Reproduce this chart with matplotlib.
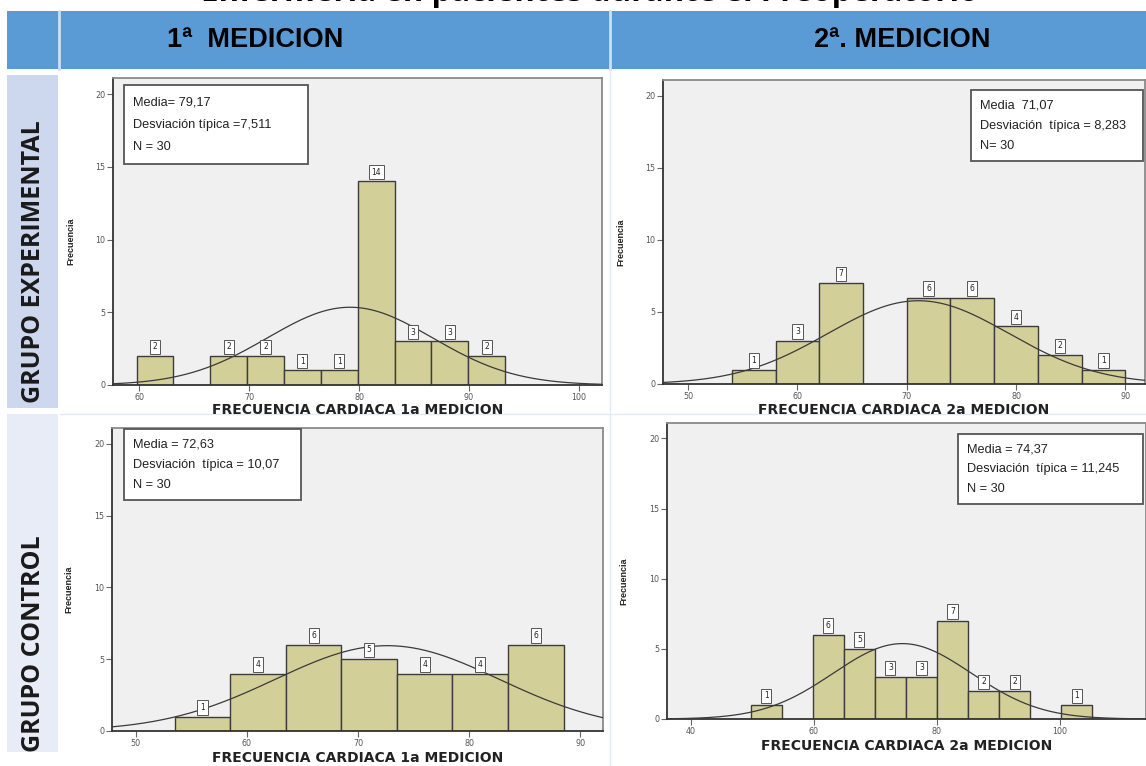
import numpy as np
import matplotlib
matplotlib.use("Agg")
from matplotlib import pyplot as plt
from matplotlib.patches import Rectangle
from matplotlib.lines import Line2D

W, H = 1146, 766

# histogram bins and counts
exp1_edges = [59.74, 63.09, 66.45, 69.8, 73.16, 76.51, 79.86, 83.22, 86.57, 89.93, 93.28]
exp1_counts = [2, 0, 2, 2, 1, 1, 14, 3, 3, 2]
exp1_stats = (79.17, 7.511, 30)
exp1_lines = ["Media= 79,17", "Desviación típica =7,511", "N = 30"]
exp1_xticks = [60, 70, 80, 90, 100]

exp2_edges = [54, 58, 62, 66, 70, 74, 78, 82, 86, 90]
exp2_counts = [1, 3, 7, 0, 6, 6, 4, 2, 1]
exp2_stats = (71.07, 8.283, 30)
exp2_lines = ["Media  71,07", "Desviación  típica = 8,283", "N= 30"]
exp2_xticks = [50, 60, 70, 80, 90]

ctl1_edges = [53.5, 58.5, 63.5, 68.5, 73.5, 78.5, 83.5, 88.5]
ctl1_counts = [1, 4, 6, 5, 4, 4, 6]
ctl1_stats = (72.63, 10.07, 30)
ctl1_lines = ["Media = 72,63", "Desviación  típica = 10,07", "N = 30"]
ctl1_xticks = [50, 60, 70, 80, 90]

ctl2_edges = [49.7, 54.75, 59.8, 64.85, 69.9, 74.95, 80.0, 85.05, 90.1, 95.15, 100.2, 105.25]
ctl2_counts = [1, 0, 6, 5, 3, 3, 7, 2, 2, 0, 1]
ctl2_stats = (74.37, 11.245, 30)
ctl2_lines = ["Media = 74,37", "Desviación  típica = 11,245", "N = 30"]
ctl2_xticks = [40, 60, 80, 100]

yticks = [0, 5, 10, 15, 20]
col_titles = ["1ª  MEDICION", "2ª. MEDICION"]
row_titles = ["GRUPO EXPERIMENTAL", "GRUPO CONTROL"]
page_title = "Enfermería en pacientes durante el Preoperatorio"

BAR = "#d3cf98"
EDGE = "#3c3c3c"
SANS = ["Liberation Sans", "DejaVu Sans"]


def fx(x):
    return x / W


def fy(y):
    return 1 - y / H


def fig_rect(x0, y0, x1, y1):
    return [x0 / W, 1 - y1 / H, (x1 - x0) / W, (y1 - y0) / H]


fig = plt.figure(figsize=(W / 100, H / 100), dpi=100)
fig.patch.set_facecolor("white")

# table header and row cells
fig.patches.append(Rectangle((fx(7), fy(69)), fx(1146 - 7), 58 / H,
                             transform=fig.transFigure, fc="#5b9bd5", ec="none"))
for xline in (59, 610):
    fig.add_artist(Line2D([fx(xline)] * 2, [fy(11), fy(69)], color="#cfe0f3", lw=2))
fig.add_artist(Line2D([fx(610)] * 2, [fy(69), fy(766)], color="#e3eaf4", lw=1))
fig.add_artist(Line2D([fx(60), fx(1146)], [fy(414)] * 2, color="#e3eaf4", lw=1))
fig.patches.append(Rectangle((fx(7), fy(408)), fx(51), 333 / H,
                             transform=fig.transFigure, fc="#cdd8ee", ec="none"))
fig.patches.append(Rectangle((fx(7), fy(752)), fx(51), 338 / H,
                             transform=fig.transFigure, fc="#e7ecf6", ec="none"))

# the page title is cut by the top edge in the reference too
fig.text(fx(590), fy(1), page_title, ha="center", va="baseline",
         fontsize=22.5, fontweight="bold", family=["Open Sans", "DejaVu Sans"])
fig.text(fx(255), fy(40), col_titles[0], ha="center", va="center",
         fontsize=19.5, fontweight="bold", family=SANS)
fig.text(fx(902), fy(40), col_titles[1], ha="center", va="center",
         fontsize=19.5, fontweight="bold", family=SANS)
fig.text(fx(34), fy(262), row_titles[0], ha="center", va="center", rotation=90,
         fontsize=18, fontweight="bold", color="#1a1a1a", family=["Open Sans", "DejaVu Sans"])
fig.text(fx(34), fy(644), row_titles[1], ha="center", va="center", rotation=90,
         fontsize=18, fontweight="bold", color="#1a1a1a", family=["Open Sans", "DejaVu Sans"])


def histogram(box, edges, counts, stats, xlim, xticks, sbox, lines, xlabel, xlab_y, ylab_x):
    ax = fig.add_axes(fig_rect(*box))
    ax.set_facecolor("#f0f0f0")
    edges = np.asarray(edges, dtype=float)
    counts = np.asarray(counts)
    widths = np.diff(edges)
    for left, w, c in zip(edges[:-1], widths, counts):
        if c == 0:
            continue
        ax.bar(left, c, width=w, align="edge", color=BAR, edgecolor=EDGE, lw=1, zorder=2)
        ax.annotate(str(c), (left + w / 2, c), xytext=(0, 3.4), textcoords="offset points",
                    ha="center", va="bottom", fontsize=5.5, color="#222", zorder=4,
                    bbox=dict(boxstyle="square,pad=0.35", fc="white", ec="#555", lw=0.7))

    # fitted normal curve scaled to counts
    mean, sd, n = stats
    xs = np.linspace(xlim[0], xlim[1], 400)
    ys = n * widths.mean() * np.exp(-0.5 * ((xs - mean) / sd) ** 2) / (sd * np.sqrt(2 * np.pi))
    ax.plot(xs, ys, color="#3a3a3a", lw=0.9, zorder=3)

    ax.set_xlim(*xlim)
    ax.set_ylim(0, 21.1)
    ax.set_xticks(xticks)
    ax.set_yticks(yticks)
    ax.tick_params(direction="out", length=4, width=0.8, color="#666",
                   labelsize=5.8, labelcolor="#555", pad=1.5)
    for side in ("left", "bottom"):
        ax.spines[side].set_color("#333")
        ax.spines[side].set_linewidth(1.3)
    for side in ("top", "right"):
        ax.spines[side].set_color("#8a8a8a")
        ax.spines[side].set_linewidth(1.3)

    # statistics box
    x0, y0, x1, y1 = sbox
    fig.patches.append(Rectangle((fx(x0), fy(y1)), (x1 - x0) / W, (y1 - y0) / H,
                                 transform=fig.transFigure, fc="white", ec="#555",
                                 lw=1.3, zorder=5))
    step = (y1 - y0) / 3.55
    for i, line in enumerate(lines):
        fig.text(fx(x0 + 9), fy(y0 + step * (0.8 + i)), line, ha="left", va="center",
                 fontsize=9.2, color="#222", family=SANS, zorder=6)

    xc = (box[0] + box[2]) / 2
    fig.text(fx(xc), fy(xlab_y), xlabel, ha="center", va="center",
             fontsize=10, fontweight="bold", color="#222")
    yc = (box[1] + box[3]) / 2 + 10
    fig.text(fx(ylab_x), fy(yc), "Frecuencia", ha="center", va="center", rotation=90,
             fontsize=6.5, fontweight="bold", color="#222", family=SANS)
    return ax


histogram((113, 78, 602, 385), exp1_edges, exp1_counts, exp1_stats, (57.6, 102.1),
          exp1_xticks, (124, 85, 308, 164), exp1_lines,
          "FRECUENCIA CARDIACA 1a MEDICION", 410, 71)
histogram((663, 80, 1145, 384), exp2_edges, exp2_counts, exp2_stats, (47.7, 91.8),
          exp2_xticks, (971, 90, 1143, 161), exp2_lines,
          "FRECUENCIA CARDIACA 2a MEDICION", 410, 621)
histogram((112, 428, 603, 731), ctl1_edges, ctl1_counts, ctl1_stats, (47.85, 92.05),
          ctl1_xticks, (124, 429, 301, 500), ctl1_lines,
          "FRECUENCIA CARDIACA 1a MEDICION", 758, 69)
histogram((667, 423, 1146, 719), ctl2_edges, ctl2_counts, ctl2_stats, (36.1, 114.0),
          ctl2_xticks, (958, 434, 1143, 504), ctl2_lines,
          "FRECUENCIA CARDIACA 2a MEDICION", 746, 624)

fig.savefig("out.png", dpi=100, facecolor="white")
